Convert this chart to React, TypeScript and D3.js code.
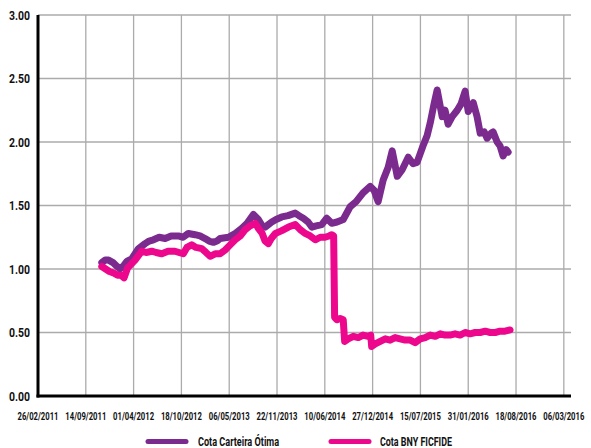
import React, { useLayoutEffect, useRef, useState } from "react";
import * as d3 from "d3";

// Tick labels along the date axis (one every 200 days)
const xTickLabels = [
  "26/02/2011", "14/09/2011", "01/04/2012", "18/10/2012", "06/05/2013", "22/11/2013",
  "10/06/2014", "27/12/2014", "15/07/2015", "31/01/2016", "18/08/2016", "06/03/2016",
];
const yTicks = [0, 0.5, 1, 1.5, 2, 2.5, 3];

// Cota Carteira Ótima
const carteiraDates = [
  "2011-11-20", "2011-12-04", "2011-12-18", "2012-01-06", "2012-01-23", "2012-02-04", "2012-02-21",
  "2012-03-04", "2012-03-24", "2012-04-21", "2012-05-19", "2012-06-05", "2012-06-23", "2012-07-17",
  "2012-08-11", "2012-09-05", "2012-10-05", "2012-10-25", "2012-11-16", "2012-12-14", "2013-01-04",
  "2013-01-25", "2013-02-11", "2013-03-01", "2013-03-16", "2013-03-29", "2013-05-03", "2013-05-31",
  "2013-06-28", "2013-07-20", "2013-08-15", "2013-09-05", "2013-09-21", "2013-10-03", "2013-10-31",
  "2013-11-18", "2013-12-12", "2014-01-07", "2014-02-06", "2014-02-22", "2014-03-12", "2014-04-01",
  "2014-04-17", "2014-05-05", "2014-05-28", "2014-06-18", "2014-07-09", "2014-07-31", "2014-08-26",
  "2014-09-24", "2014-10-19", "2014-11-17", "2014-12-17", "2015-01-02", "2015-01-19", "2015-02-09",
  "2015-03-02", "2015-03-19", "2015-04-09", "2015-04-29", "2015-05-25", "2015-06-14", "2015-07-01",
  "2015-07-26", "2015-08-12", "2015-08-25", "2015-09-10", "2015-09-23", "2015-10-14", "2015-10-26",
  "2015-11-08", "2015-11-25", "2015-12-16", "2016-01-01", "2016-01-18", "2016-01-31", "2016-02-21",
  "2016-03-08", "2016-03-21", "2016-04-07", "2016-04-19", "2016-05-06", "2016-05-14", "2016-05-31",
  "2016-06-12", "2016-06-25", "2016-07-08", "2016-07-16",
];
const carteiraValues = [
  1.05, 1.07, 1.07, 1.05, 1.02, 1.0, 1.03,
  1.06, 1.08, 1.16, 1.2, 1.22, 1.23, 1.25,
  1.24, 1.26, 1.26, 1.25, 1.28, 1.27, 1.26,
  1.24, 1.22, 1.21, 1.22, 1.24, 1.25, 1.28,
  1.32, 1.36, 1.43, 1.39, 1.34, 1.33, 1.37,
  1.39, 1.41, 1.42, 1.44, 1.42, 1.4, 1.37,
  1.33, 1.34, 1.35, 1.4, 1.36, 1.37, 1.39,
  1.49, 1.53, 1.6, 1.65, 1.62, 1.53, 1.7,
  1.8, 1.93, 1.73, 1.78, 1.88, 1.83, 1.84,
  1.97, 2.05, 2.15, 2.3, 2.41, 2.2, 2.25,
  2.14, 2.2, 2.25, 2.3, 2.4, 2.24, 2.31,
  2.2, 2.07, 2.08, 2.03, 2.07, 2.08, 2.0,
  1.97, 1.89, 1.94, 1.92,
];

// Cota BNY FICFIDE
const bnyDates = [
  "2011-11-20", "2011-12-06", "2011-12-22", "2012-01-07", "2012-01-25", "2012-02-09", "2012-02-21",
  "2012-03-07", "2012-03-18", "2012-04-07", "2012-05-05", "2012-05-23", "2012-06-16", "2012-07-04",
  "2012-07-28", "2012-08-23", "2012-09-21", "2012-10-08", "2012-10-26", "2012-11-10", "2012-11-30",
  "2012-12-18", "2013-01-11", "2013-01-29", "2013-02-15", "2013-03-08", "2013-03-29", "2013-04-19",
  "2013-05-10", "2013-05-31", "2013-06-21", "2013-07-12", "2013-08-02", "2013-08-23", "2013-09-05",
  "2013-09-21", "2013-10-03", "2013-10-17", "2013-10-29", "2013-11-15", "2013-12-10", "2014-01-09",
  "2014-02-06", "2014-02-27", "2014-03-20", "2014-04-10", "2014-05-01", "2014-05-22", "2014-06-11",
  "2014-06-28", "2014-07-09", "2014-07-17", "2014-07-21", "2014-07-31", "2014-08-13", "2014-08-26",
  "2014-09-01", "2014-09-16", "2014-10-07", "2014-10-28", "2014-11-17", "2014-12-08", "2014-12-19",
  "2014-12-23", "2015-01-07", "2015-01-28", "2015-02-18", "2015-03-10", "2015-03-31", "2015-04-21",
  "2015-05-12", "2015-06-02", "2015-06-23", "2015-07-14", "2015-08-04", "2015-08-25", "2015-09-15",
  "2015-10-06", "2015-10-26", "2015-11-16", "2015-12-07", "2015-12-28", "2016-01-18", "2016-02-08",
  "2016-02-29", "2016-03-21", "2016-04-11", "2016-05-02", "2016-05-23", "2016-06-12", "2016-07-03",
  "2016-07-24",
];
const bnyValues = [
  1.02, 1.0, 0.98, 0.97, 0.95, 0.95, 0.93,
  1.01, 1.03, 1.07, 1.14, 1.13, 1.14, 1.13,
  1.12, 1.14, 1.14, 1.13, 1.12, 1.17, 1.19,
  1.17, 1.16, 1.13, 1.1, 1.12, 1.12, 1.15,
  1.19, 1.23, 1.26, 1.31, 1.34, 1.36, 1.32,
  1.28, 1.22, 1.2, 1.24, 1.28, 1.3, 1.33,
  1.35, 1.31, 1.28, 1.26, 1.23, 1.25, 1.25,
  1.26, 1.27, 1.26, 0.62, 0.6, 0.61, 0.6,
  0.43, 0.45, 0.47, 0.46, 0.48, 0.47, 0.48,
  0.39, 0.41, 0.43, 0.45, 0.44, 0.46, 0.45,
  0.44, 0.44, 0.42, 0.45, 0.46, 0.48, 0.47,
  0.49, 0.48, 0.48, 0.49, 0.48, 0.5, 0.49,
  0.5, 0.5, 0.51, 0.5, 0.5, 0.51, 0.51,
  0.52,
];

const PURPLE = "#7b2a8e";
const PINK = "#ec078c";
const FONT = "Roboto, 'Liberation Sans', sans-serif";

const parse = d3.timeParse("%Y-%m-%d");
const startDate = parse("2011-02-26") as Date;
const dayMs = 86400000;
const tickDates = xTickLabels.map((_, i) => new Date(startDate.getTime() + i * 200 * dayMs));
const endDate = new Date(startDate.getTime() + 2230 * dayMs);

type Pt = { date: Date; value: number };
const toPoints = (dates: string[], values: number[]): Pt[] =>
  dates.map((d, i) => ({ date: parse(d) as Date, value: values[i] }));

const carteira = toPoints(carteiraDates, carteiraValues);
const bny = toPoints(bnyDates, bnyValues);

// Condensed-looking text: squeezes the glyphs horizontally to a given width.
function NarrowText(props: {
  x: number;
  y: number;
  width: number;
  fontSize: number;
  anchor?: "start" | "middle" | "end";
  children: string;
}) {
  const { x, y, width, fontSize, anchor = "start", children } = props;
  const ref = useRef<SVGTextElement>(null);
  const [sx, setSx] = useState(0.75);
  useLayoutEffect(() => {
    const el = ref.current;
    if (!el) return;
    const w = el.getComputedTextLength();
    if (w > 0) setSx(width / w);
  }, [width, children, fontSize]);
  return (
    <text
      ref={ref}
      transform={`translate(${x},${y}) scale(${sx},1)`}
      textAnchor={anchor}
      dy="0.35em"
      fontSize={fontSize}
      fill="#111"
    >
      {children}
    </text>
  );
}

export default function App() {
  const W = 591;
  const H = 448;
  const left = 38;
  const right = 571;
  const top = 15;
  const bottom = 396;

  const x = d3.scaleTime().domain([startDate, endDate]).range([left, right]);
  const y = d3.scaleLinear().domain([0, 3]).range([bottom, top]);

  const line = d3
    .line<Pt>()
    .x((d) => x(d.date))
    .y((d) => y(d.value))
    .curve(d3.curveLinear);

  const legend = [
    { label: "Cota Carteira Ótima", color: PURPLE, x0: 146, textX: 198, textW: 81 },
    { label: "Cota BNY FICFIDE", color: PINK, x0: 329, textX: 380, textW: 72 },
  ];

  return (
    <svg
      width={W}
      height={H}
      style={{ position: "absolute", left: 0, top: 0, background: "#fff" }}
      fontFamily={FONT}
      fontWeight="bold"
    >
      {/* grid */}
      <g stroke="#ababab" strokeWidth={1.3}>
        {yTicks.slice(1).map((t) => (
          <line key={"h" + t} x1={left} x2={right} y1={y(t)} y2={y(t)} />
        ))}
        {tickDates.slice(1).map((d, i) => (
          <line key={"v" + i} x1={x(d)} x2={x(d)} y1={top} y2={bottom} />
        ))}
      </g>

      {/* series */}
      <path
        d={line(carteira) ?? ""}
        fill="none"
        stroke={PURPLE}
        strokeWidth={7}
        strokeLinejoin="round"
        strokeLinecap="round"
      />
      <path
        d={line(bny) ?? ""}
        fill="none"
        stroke={PINK}
        strokeWidth={7}
        strokeLinejoin="round"
        strokeLinecap="round"
      />

      {/* axes */}
      <line x1={left} x2={left} y1={top} y2={bottom + 1.5} stroke="#000" strokeWidth={3} />
      <line x1={left - 1.5} x2={right} y1={bottom} y2={bottom} stroke="#000" strokeWidth={3} />

      {/* y labels */}
      {yTicks.map((t) => (
        <NarrowText key={"yl" + t} x={30} y={y(t)} width={21} fontSize={13} anchor="end">
          {t.toFixed(2)}
        </NarrowText>
      ))}

      {/* x labels */}
      {tickDates.map((d, i) => (
        <NarrowText key={"xl" + i} x={x(d)} y={416} width={41} fontSize={10.5} anchor="middle">
          {xTickLabels[i]}
        </NarrowText>
      ))}

      {/* legend */}
      {legend.map((l) => (
        <g key={l.label}>
          <line
            x1={l.x0 + 2}
            x2={l.x0 + 40}
            y1={441.5}
            y2={441.5}
            stroke={l.color}
            strokeWidth={5}
            strokeLinecap="round"
          />
          <NarrowText x={l.textX} y={441.5} width={l.textW} fontSize={12.5}>
            {l.label}
          </NarrowText>
        </g>
      ))}
    </svg>
  );
}
